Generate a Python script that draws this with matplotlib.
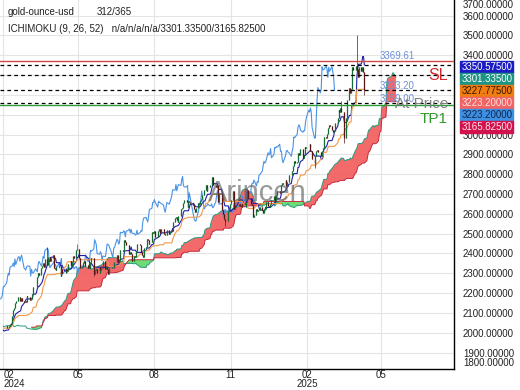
import numpy as np
import pandas as pd
import matplotlib
matplotlib.use("Agg")
import matplotlib.pyplot as plt
from matplotlib.patches import Rectangle

plt.rcParams['font.family'] = ['Liberation Sans', 'DejaVu Sans']

# daily closes: 53 warm-up bars (before the visible window) + 312 shown bars
warmup_close = [2005, 1982, 1979, 2027, 2035, 2019, 2027, 2040, 2031, 2046,
                2053, 2053, 2067, 2077, 2065, 2063, 2063, 2059, 2041, 2043,
                2045, 2028, 2030, 2024, 2029, 2049, 2055, 2029, 2006, 2023,
                2029, 2021, 2029, 2014, 2021, 2018, 2032, 2037, 2039, 2054,
                2039, 2025, 2035, 2034, 2033, 2024, 2020, 1992, 1992, 2004,
                2013, 2017, 2024]
close = [2025, 2024, 2035, 2031, 2030, 2034, 2044, 2083, 2114, 2126,
         2148, 2159, 2179, 2182, 2158, 2174, 2162, 2155, 2160, 2157,
         2186, 2181, 2165, 2172, 2178, 2194, 2233, 2233, 2251, 2280,
         2300, 2291, 2329, 2339, 2352, 2333, 2372, 2344, 2383, 2383,
         2361, 2379, 2391, 2327, 2322, 2316, 2332, 2337, 2335, 2286,
         2320, 2303, 2301, 2323, 2314, 2309, 2346, 2360, 2336, 2358,
         2385, 2376, 2415, 2425, 2421, 2379, 2329, 2334, 2350, 2361,
         2338, 2343, 2327, 2350, 2327, 2355, 2375, 2294, 2310, 2316,
         2324, 2303, 2333, 2319, 2329, 2328, 2360, 2322, 2334, 2320,
         2298, 2327, 2326, 2331, 2330, 2356, 2356, 2392, 2359, 2364,
         2371, 2415, 2411, 2422, 2469, 2458, 2445, 2400, 2396, 2409,
         2398, 2364, 2387, 2384, 2410, 2447, 2446, 2442, 2409, 2391,
         2383, 2427, 2431, 2472, 2466, 2447, 2456, 2507, 2504, 2514,
         2512, 2484, 2512, 2518, 2524, 2504, 2521, 2503, 2500, 2493,
         2495, 2517, 2497, 2506, 2516, 2512, 2558, 2578, 2582, 2569,
         2559, 2587, 2622, 2628, 2657, 2657, 2672, 2658, 2634, 2663,
         2658, 2656, 2653, 2644, 2622, 2608, 2630, 2657, 2649, 2663,
         2674, 2693, 2721, 2720, 2748, 2716, 2736, 2747, 2743, 2774,
         2788, 2743, 2736, 2736, 2743, 2659, 2706, 2685, 2618, 2598,
         2573, 2565, 2563, 2612, 2631, 2650, 2670, 2715, 2625, 2633,
         2638, 2640, 2650, 2640, 2643, 2650, 2632, 2633, 2660, 2694,
         2718, 2680, 2648, 2652, 2646, 2586, 2594, 2622, 2612, 2617,
         2617, 2634, 2621, 2606, 2624, 2624, 2658, 2640, 2636, 2648,
         2661, 2670, 2690, 2663, 2677, 2697, 2715, 2703, 2708, 2743,
         2755, 2753, 2771, 2741, 2763, 2760, 2794, 2798, 2815, 2842,
         2865, 2856, 2861, 2908, 2897, 2904, 2929, 2883, 2898, 2935,
         2933, 2939, 2936, 2951, 2915, 2916, 2876, 2858, 2893, 2918,
         2920, 2911, 2910, 2890, 2916, 2934, 2988, 2984, 3001, 3035,
         3049, 3044, 3022, 3012, 3020, 3019, 3058, 3085, 3123, 3114,
         3134, 3114, 3037, 2982, 2983, 3082, 3175, 3237, 3210, 3230,
         3342, 3327, 3327, 3345, 3330, 3288, 3340, 3319, 3343, 3317,
         3288, 3223.2]
# intraday extremes that stick out beyond the candle bodies (index in shown bars)
wick_high = {37: 2431, 63: 2450, 291: 3167, 304: 3500}
wick_low = {77: 2287, 191: 2537, 267: 2832, 293: 2956, 311: 3202}

badge_values = [3350.575, 3301.335, 3227.775, 3223.2, 3223.2, 3165.825]
badge_colors = ['#1c1cc4', '#1f9484', '#f07d12', '#f06464', '#3f8fe2', '#d2124c']
badge_text = ['white', 'white', '#3b1800', '#ffe0e0', '#0d2850', '#ffe0e8']

sl_level = 3369.61
entry_level = 3223.20
tp_level = 3159.00
tp1_line = 3147
dashed_levels = [3350.575, 3301.335, 3223.2, 3159.0]

ytick_values = list(range(1900, 3700, 100))
month_ticks = ['2024-02-01', '2024-05-01', '2024-08-01', '2024-11-01', '2025-02-01', '2025-05-01']
month_labels = ['02\n2024', '05', '08', '11', '02\n2025', '05']

# ---- build series ----
n_warm = len(warmup_close)
c_all = np.array(warmup_close + close, dtype=float)
o_all = np.r_[c_all[0], c_all[:-1]]
h_all = np.maximum(o_all, c_all)
l_all = np.minimum(o_all, c_all)
for k, v in wick_high.items():
    h_all[n_warm + k] = v
for k, v in wick_low.items():
    l_all[n_warm + k] = v

start = pd.bdate_range(end='2024-02-01', periods=n_warm + 1)[0]
dates = pd.bdate_range(start, periods=len(c_all) + 26)
H = pd.Series(h_all)
L = pd.Series(l_all)
tenkan = (H.rolling(9).max() + L.rolling(9).min()) / 2
kijun = (H.rolling(26).max() + L.rolling(26).min()) / 2
span_a = ((tenkan + kijun) / 2).values
span_b = ((H.rolling(52).max() + L.rolling(52).min()) / 2).values

# ---- figure ----
fig = plt.figure(figsize=(5.2, 3.9), dpi=100)
ax = fig.add_axes([0, 21 / 390, 454 / 520, 369 / 390])
ax.set_xlim(pd.Timestamp('2024-01-28'), pd.Timestamp('2025-07-28'))
ax.set_ylim(1817, 3679)

# cloud, drawn 26 bars ahead, from the first shown bar on
sel = slice(n_warm - 26, None)
xa = dates[26:len(c_all) + 26][sel]
a, b = span_a[sel], span_b[sel]
ok = ~np.isnan(b)
ax.fill_between(xa, a, b, where=(a >= b) & ok, interpolate=True,
                color='#f25a5a', alpha=0.9, lw=0, zorder=2)
ax.fill_between(xa, a, b, where=(a < b) & ok, interpolate=True,
                color='#5ed865', alpha=0.9, lw=0, zorder=2)
ax.plot(xa, a, color='#2a9a80', lw=0.7, zorder=3)
ax.plot(xa, b, color='#c8283c', lw=0.7, zorder=3)

# chikou, tenkan, kijun
vis = slice(n_warm, len(c_all))
ax.plot(dates[n_warm - 26:len(c_all) - 26], c_all[n_warm:], color='#4a93e4', lw=0.8, zorder=4)
ax.plot(dates[vis], tenkan.values[vis], color='#2020a8', lw=0.8, zorder=5)
ax.plot(dates[vis], kijun.values[vis], color='#f2994a', lw=0.8, zorder=5)

# candles
xd = dates[vis]
o, c, h, l = o_all[vis], c_all[vis], h_all[vis], l_all[vis]
up = c >= o
col = np.where(up, '#126e34', '#5a1414')
ax.vlines(xd, l, h, colors=col, lw=0.5, zorder=6)
ax.vlines(xd, np.minimum(o, c), np.maximum(o, c), colors=col, lw=0.9, zorder=6)

# levels
for lv in dashed_levels:
    ax.axhline(lv, color='black', lw=0.9, ls=(0, (3, 2.5)), zorder=7)
ax.axhline(sl_level, color='#d04848', lw=1.0, zorder=7)
ax.axhline(tp1_line, color='#2e9a3a', lw=1.0, zorder=7)


def px2y(py):
    return (369 - py) / 369


def px2x(px):
    return px / 454


lab_col = '#6f8fd8'
ax.text(px2x(380), px2y(56), f'{sl_level:.2f}', transform=ax.transAxes, fontsize=7, color=lab_col, va='center', zorder=8)
ax.text(px2x(380), px2y(86), f'{entry_level:.2f}', transform=ax.transAxes, fontsize=7, color=lab_col, va='center', zorder=8)
ax.text(px2x(380), px2y(99), f'{tp_level:.2f}', transform=ax.transAxes, fontsize=7, color=lab_col, va='center', zorder=8)
ax.text(px2x(448), px2y(75), 'SL', transform=ax.transAxes, fontsize=11.5, color='#d42a2a', ha='right', va='center', zorder=8)
ax.text(px2x(448), px2y(104), 'At Price', transform=ax.transAxes, fontsize=11, color='#808080', ha='right', va='center', zorder=8)
ax.text(px2x(448), px2y(119), 'TP1', transform=ax.transAxes, fontsize=11, color='#2e9a2e', ha='right', va='center', zorder=8)

ax.text(px2x(257), px2y(193), 'Arincen', transform=ax.transAxes, fontsize=21, color='#555555',
        alpha=0.6, ha='center', va='center', zorder=9)

# grid + axes
ax.set_yticks(ytick_values)
ax.set_xticks(pd.to_datetime(month_ticks))
ax.set_xticklabels(month_labels)
ax.grid(True, color='#e4e4e4', lw=0.8, zorder=0)
ax.set_axisbelow(True)
ax.yaxis.tick_right()
ax.yaxis.set_major_formatter(matplotlib.ticker.FormatStrFormatter('%.5f'))
ax.tick_params(axis='y', length=0, pad=6.5, labelsize=7, colors='#222222')
ax.tick_params(axis='x', length=0, pad=1, labelsize=7, colors='#222222')
for lbl in ax.get_xticklabels():
    lbl.set_linespacing(0.82)
ax.get_xticklabels()[0].set_horizontalalignment('left')
for s in ['left', 'top']:
    ax.spines[s].set_visible(False)
for s in ['right', 'bottom']:
    ax.spines[s].set_color('black')
    ax.spines[s].set_linewidth(1.0)

# clamped end labels on the price scale
ax.text(1 + 9 / 454, px2y(5), '3700.00000', transform=ax.transAxes, fontsize=7, color='#222222', va='center')
ax.text(1 + 9 / 454, px2y(363), '1800.00000', transform=ax.transAxes, fontsize=7, color='#222222', va='center')

# value badges on the price scale
for k, (v, bc, tc) in enumerate(zip(badge_values, badge_colors, badge_text)):
    yc = 66.7 + 12 * k
    fig.patches.append(Rectangle((460 / 520, 1 - (yc + 6) / 390), 53 / 520, 12 / 390,
                                 transform=fig.transFigure, color=bc, zorder=10))
    fig.text(462 / 520, 1 - yc / 390, f'{v:.5f}', fontsize=7, color=tc, va='center', zorder=11)

# header
fig.text(8 / 520, 1 - 12 / 390, 'gold-ounce-usd', fontsize=7, color='#222222', va='center')
fig.text(97 / 520, 1 - 12 / 390, '312/365', fontsize=7, color='#222222', va='center')
fig.text(8 / 520, 1 - 29 / 390, 'ICHIMOKU (9, 26, 52)   n/a/n/a/n/a/3301.33500/3165.82500',
         fontsize=7, color='#222222', va='center')

fig.savefig('out.png', dpi=100)
